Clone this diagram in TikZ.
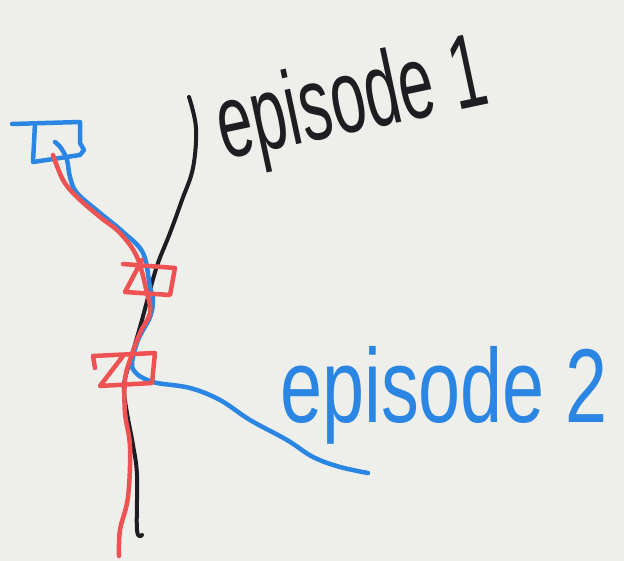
\documentclass[tikz,border=0pt]{standalone}
\usepackage{fontspec}
\setsansfont{Liberation Sans}
\usetikzlibrary{positioning}
\definecolor{paper}{HTML}{EEEFEA}
\definecolor{inkblue}{HTML}{2A86E2}
\definecolor{inkred}{HTML}{EE5252}
\definecolor{inkblack}{HTML}{1E1E22}

\begin{document}
\begin{tikzpicture}[
    x=1pt, y=-1pt,
    stroke/.style={line width=4.5pt, line cap=round, line join=round},
    blackpen/.style={stroke, draw=inkblack, line width=4pt},
    bluepen/.style={stroke, draw=inkblue},
    redpen/.style={stroke, draw=inkred},
    handtext/.style={font=\sffamily\fontsize{105}{105}\selectfont, inner sep=0pt}
]
\fill[paper] (0,0) rectangle (624,561);
\useasboundingbox (0,0) rectangle (624,561);

% episode 1 (black)
\draw[blackpen] plot[smooth, tension=0.6] coordinates {(189,97) (196,128) (193,168) (182,200) (170,233) (158,263) (150,290) (142,320) (132,355) (124,385) (127,413) (133,445) (137,475) (137,530) (142,535)};
\node[handtext, rotate=12, anchor=base west, text=inkblack] (ep1) at (224,160) {\scalebox{0.6}[1]{episode 1}};

% episode 2 (blue)
\draw[bluepen] (12,124) -- (80,122) -- (80,143) -- (84,150) -- (80,155) -- (33,162) -- (35,124);
\draw[bluepen] plot[smooth, tension=0.6] coordinates {(55,142) (61,148) (67,160) (70,177) (77,193) (100,213) (123,232) (143,253) (150,287) (153,300) (150,317) (138,340) (132,363) (135,372) (143,378) (157,383) (190,388) (220,400) (250,420) (287,440) (313,457) (340,467) (368,473)};
\node[handtext, anchor=base west, text=inkblue] (ep2) at (280,422) {\scalebox{0.72}[1]{episode 2}};

% red path and boxes
\draw[redpen] plot[smooth, tension=0.6] coordinates {(53,155) (63,180) (77,197) (100,217) (120,233) (137,257) (147,293) (150,313) (140,333) (130,360) (125,380) (125,413) (130,447) (128,497) (120,530) (119,556)};
\draw[redpen] (142,260) -- (125,292) -- (170,295) -- (175,268) -- (123,264);
\draw[redpen] (95,368) -- (93,356) -- (155,353) -- (152,383) -- (100,386) -- (123,356);
\end{tikzpicture}
\end{document}
